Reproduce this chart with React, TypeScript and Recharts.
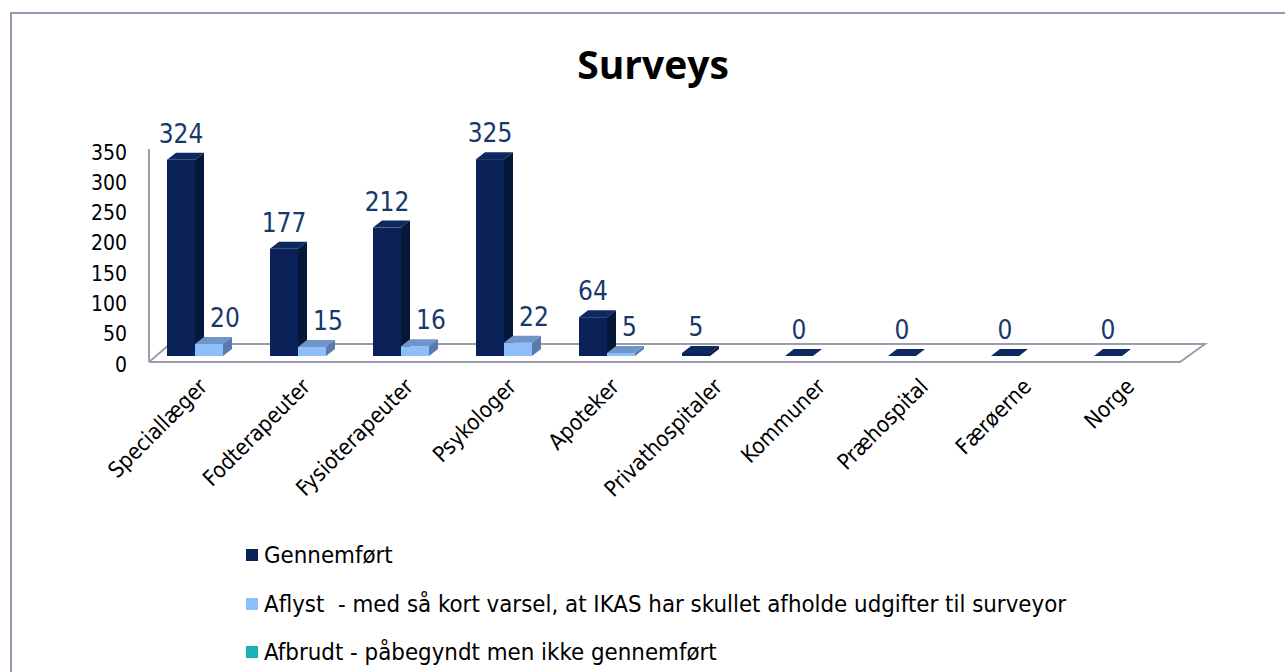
import { BarChart, Bar, XAxis, YAxis, Legend, LabelList, Customized } from 'recharts';

const categories = [
  'Speciallæger',
  'Fodterapeuter',
  'Fysioterapeuter',
  'Psykologer',
  'Apoteker',
  'Privathospitaler',
  'Kommuner',
  'Præhospital',
  'Færøerne',
  'Norge',
];
const gennemfort = [324, 177, 212, 325, 64, 5, 0, 0, 0, 0];
const aflyst = [20, 15, 16, 22, 5, null, null, null, null, null];
const afbrudt = [null, null, null, null, null, null, null, null, null, null];
const yTicks = [0, 50, 100, 150, 200, 250, 300, 350];

const seriesNames = [
  'Gennemført',
  'Aflyst  - med så kort varsel, at IKAS har skullet afholde udgifter til surveyor',
  'Afbrudt - påbegyndt men ikke gennemført',
];

const data = categories.map((name, i) => ({
  name,
  gennemfort: gennemfort[i],
  aflyst: aflyst[i],
  afbrudt: afbrudt[i],
}));

const FONT = "'DejaVu Sans Condensed', 'DejaVu Sans', sans-serif";
const LABEL_COLOR = '#17386b';
const LINE = '#9b9daf';

// chart layout
const W = 1285;
const H = 672;
const PLOT_LEFT = 157;
const PLOT_RIGHT = 1187;
const PLOT_TOP = 144;
const PLOT_BOTTOM = 356;
const X_AXIS_H = 60;
const Y_AXIS_W = 60;

// 3d depth of a bar
const DX = 9;
const DY = 7;

const palette = {
  dark: { front: '#0a2257', top: '#0e2860', side: '#051838' },
  light: { front: '#8fbffb', top: '#6f95c9', side: '#5a7aab' },
  teal: { front: '#17b1b6', top: '#128e92', side: '#0d6f72' },
};

function makeShape(c: { front: string; top: string; side: string }) {
  return (props: any) => {
    const { x, y, width, height, value } = props;
    if (value == null || x == null) return <g />;
    const w = width;
    const h = Math.max(height, 0);
    return (
      <g>
        <rect x={x} y={y} width={w} height={h} fill={c.front} />
        <polygon
          points={`${x},${y} ${x + DX},${y - DY} ${x + w + DX},${y - DY} ${x + w},${y}`}
          fill={c.top}
        />
        <polygon
          points={`${x + w},${y} ${x + w + DX},${y - DY} ${x + w + DX},${y + h - DY} ${x + w},${y + h}`}
          fill={c.side}
        />
      </g>
    );
  };
}

const Floor = () => {
  const frontY = 362;
  const backY = 344;
  return (
    <g stroke={LINE} strokeWidth={2} fill="none">
      <line x1={149} y1={149} x2={149} y2={frontY} />
      <polyline
        points={`149,${frontY} 1180,${frontY} 1205,${backY} 170,${backY} 149,${frontY}`}
      />
    </g>
  );
};

const YTick = (props: any) => {
  const { x, y, payload } = props;
  return (
    <text x={x} y={y + 8} dy="0.36em" textAnchor="end" fontFamily={FONT} fontSize={21} fill="#000">
      {payload.value}
    </text>
  );
};

const XTick = (props: any) => {
  const { x, y, payload } = props;
  const ty = y + 24;
  return (
    <text
      x={x}
      y={ty}
      transform={`rotate(-45 ${x} ${ty})`}
      textAnchor="end"
      fontFamily={FONT}
      fontSize={22}
      fill="#000"
    >
      {payload.value}
    </text>
  );
};

const DarkLabel = (props: any) => {
  const { x, y, width, value } = props;
  if (value == null) return null;
  return (
    <text x={x + width / 2} y={y - 17} textAnchor="middle" fontFamily={FONT} fontSize={26} fill={LABEL_COLOR}>
      {value}
    </text>
  );
};

const LightLabel = (props: any) => {
  const { x, y, width, value } = props;
  if (value == null) return null;
  return (
    <text x={x + width / 2 + 1} y={y - 17} textAnchor="start" fontFamily={FONT} fontSize={26} fill={LABEL_COLOR}>
      {value}
    </text>
  );
};

const LegendContent = (props: any) => {
  const items = [...(props.payload || [])].sort(
    (a: any, b: any) => seriesNames.indexOf(a.value) - seriesNames.indexOf(b.value)
  );
  return (
    <div style={{ fontFamily: FONT, fontSize: 23.8, color: '#000' }}>
      {items.map((p: any) => (
        <div key={p.value} style={{ display: 'flex', alignItems: 'center', height: 48.5 }}>
          <span style={{ width: 12, height: 12, background: p.color, marginRight: 6, display: 'inline-block' }} />
          <span style={{ whiteSpace: 'pre' }}>{p.value}</span>
        </div>
      ))}
    </div>
  );
};

export default function App() {
  return (
    <div style={{ position: 'absolute', left: 0, top: 0, width: W, height: H, overflow: 'hidden', background: '#fff' }}>
      <div
        style={{
          position: 'absolute',
          left: 10,
          top: 12,
          width: W + 50,
          height: H + 50,
          borderLeft: '2px solid #9498ab',
          borderTop: '2px solid #9498ab',
        }}
      />
      <div
        style={{
          position: 'absolute',
          left: 453,
          width: 400,
          top: 38,
          textAlign: 'center',
          fontFamily: "'Open Sans', sans-serif",
          fontWeight: 700,
          fontSize: 39,
          lineHeight: '52px',
          color: '#000',
        }}
      >
        Surveys
      </div>
      <div style={{ position: 'absolute', left: 0, top: 0 }}>
        <BarChart
          width={W}
          height={H}
          data={data}
          margin={{
            top: PLOT_TOP,
            right: W - PLOT_RIGHT,
            bottom: H - PLOT_BOTTOM - X_AXIS_H,
            left: PLOT_LEFT - Y_AXIS_W,
          }}
          barSize={28}
          barGap={0}
        >
          <Customized component={<Floor />} />
          <XAxis
            dataKey="name"
            height={X_AXIS_H}
            axisLine={false}
            tickLine={false}
            interval={0}
            tick={<XTick />}
          />
          <YAxis
            width={Y_AXIS_W}
            domain={[0, 350]}
            ticks={yTicks}
            axisLine={false}
            tickLine={false}
            tickMargin={24}
            tick={<YTick />}
          />
          <Legend
            layout="vertical"
            verticalAlign="middle"
            align="center"
            wrapperStyle={{ left: 246, top: 531, width: 1000 }}
            content={<LegendContent />}
          />
          <Bar
            dataKey="gennemfort"
            name={seriesNames[0]}
            fill={palette.dark.front}
            shape={makeShape(palette.dark)}
            isAnimationActive={false}
          >
            <LabelList dataKey="gennemfort" content={<DarkLabel />} />
          </Bar>
          <Bar
            dataKey="aflyst"
            name={seriesNames[1]}
            fill={palette.light.front}
            shape={makeShape(palette.light)}
            isAnimationActive={false}
          >
            <LabelList dataKey="aflyst" content={<LightLabel />} />
          </Bar>
          <Bar
            dataKey="afbrudt"
            name={seriesNames[2]}
            fill={palette.teal.front}
            shape={makeShape(palette.teal)}
            isAnimationActive={false}
          />
        </BarChart>
      </div>
    </div>
  );
}
